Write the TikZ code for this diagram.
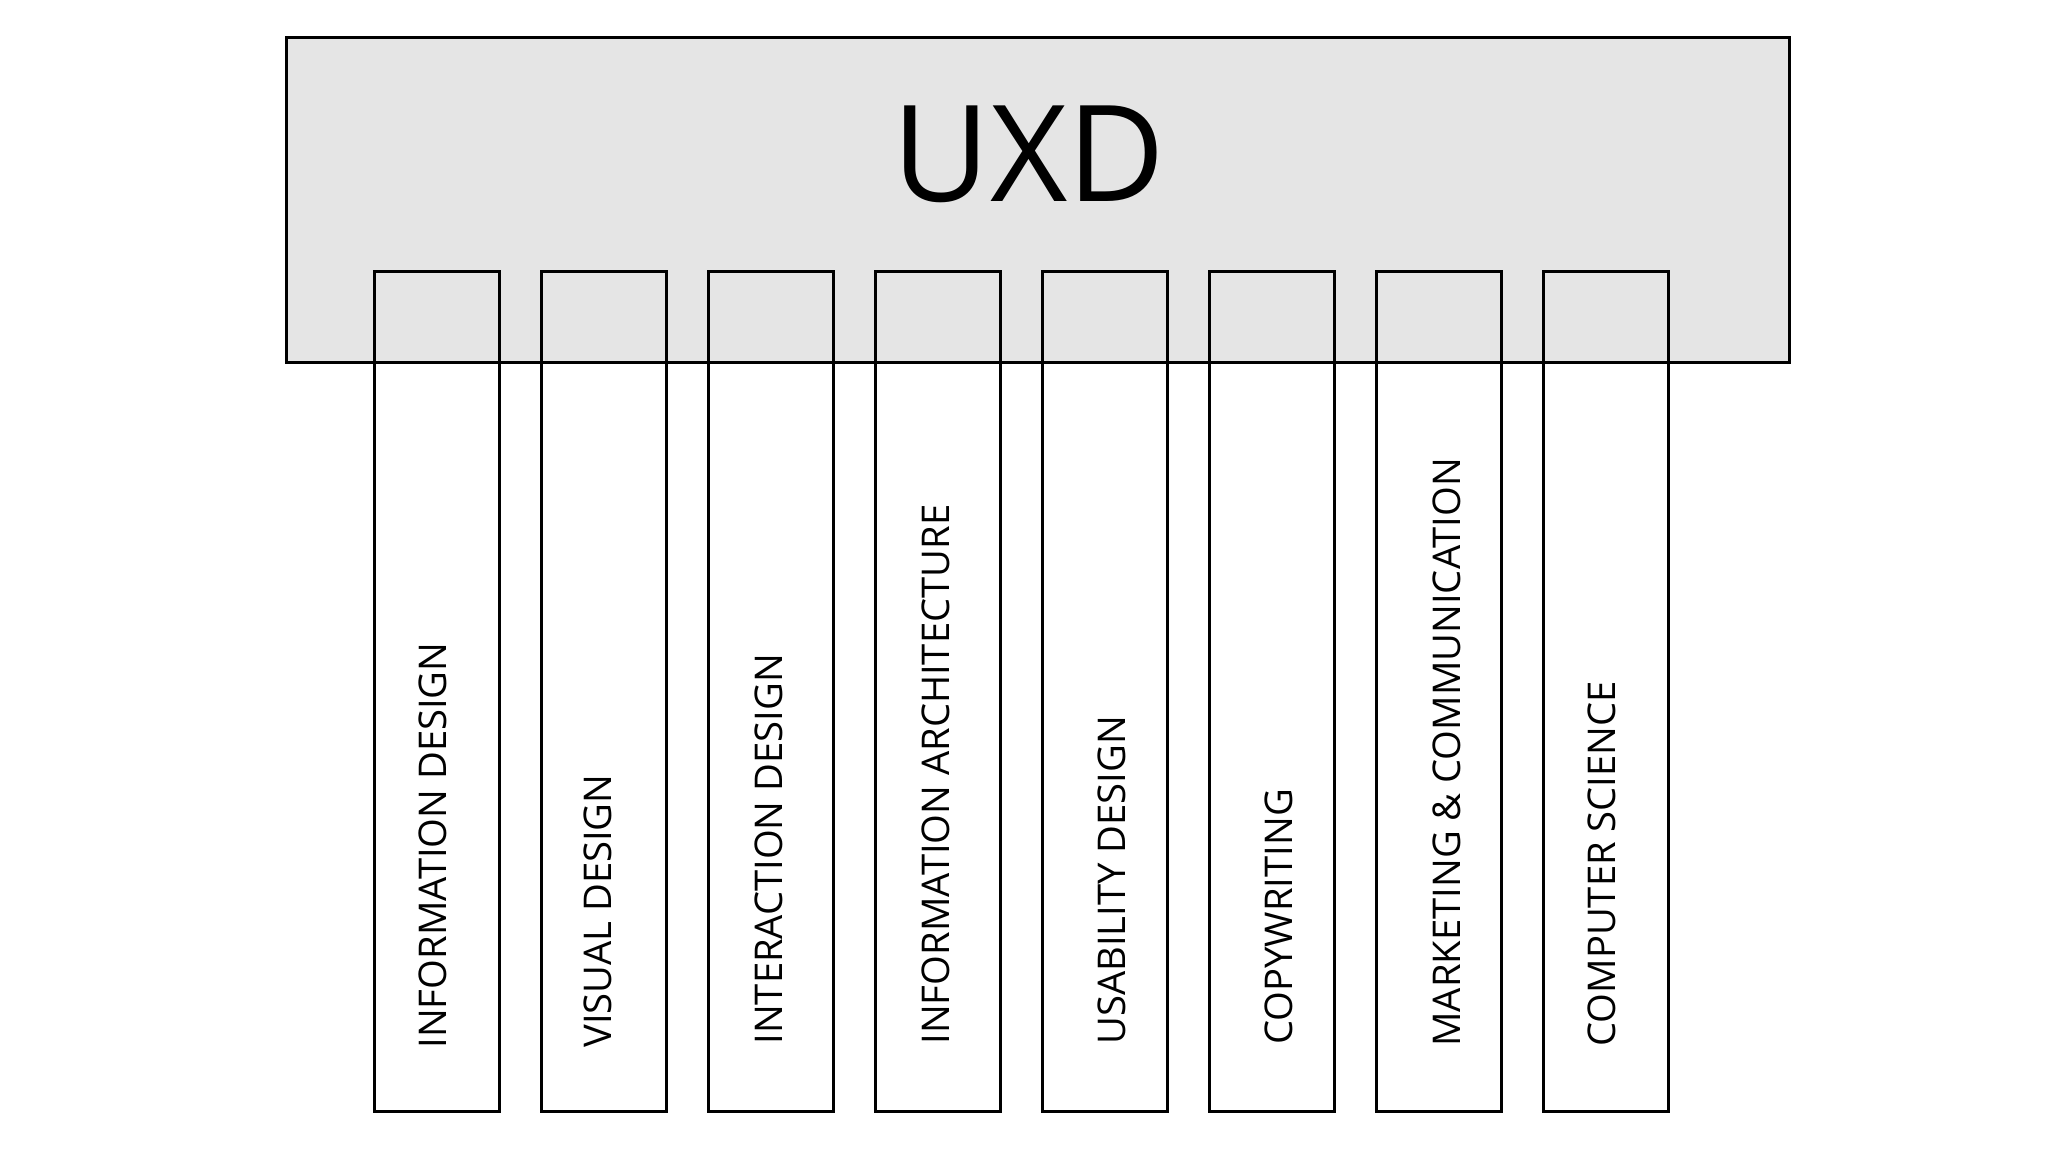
\documentclass[tikz,border=0pt]{standalone}
\usepackage{fontspec}
\setmainfont{Open Sans}
\usepackage{tikz}

\begin{document}
\begin{tikzpicture}[x=0.5pt, y=-0.5pt, line width=1.5pt,
  bar/.style={draw, minimum width=62.5pt, minimum height=420pt, inner sep=0pt},
  barlabel/.style={rotate=90, anchor=base west, inner sep=0pt, font=\fontsize{19.1}{23}\selectfont}]
  \useasboundingbox (0,0) rectangle (2048,1152);
  \node[draw, fill=gray!20, minimum width=751.5pt, minimum height=162.5pt] (uxd) at (1037.5,199.5) {};
  \node[anchor=base, inner sep=0pt, font=\fontsize{67}{80}\selectfont] (title) at (1029,201) {UXD};
  % disciplines
  \foreach \name/\dx/\by [count=\i from 0] in {INFORMATION DESIGN/9.5/1050, VISUAL DESIGN/8/1049,
      INTERACTION DESIGN/11.5/1046, INFORMATION ARCHITECTURE/12/1046, USABILITY DESIGN/21/1046,
      COPYWRITING/20/1046, MARKETING \& COMMUNICATION/21.5/1048, COMPUTER SCIENCE/9/1048} {
    \node[bar] (bar\i) at (436.5+167.1*\i, 691) {};
    \node[barlabel] (label\i) at (436.5+167.1*\i+\dx, \by) {\name};
  }
\end{tikzpicture}
\end{document}
